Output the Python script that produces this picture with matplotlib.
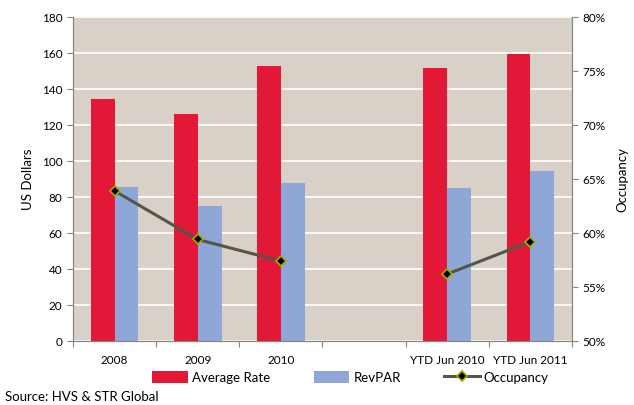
import numpy as np
import matplotlib.pyplot as plt
from matplotlib.ticker import FuncFormatter

plt.rcParams['font.family'] = ['Lato', 'DejaVu Sans']

# --- Data --------------------------------------------------------------------

categories = ['2008', '2009', '2010', '', 'YTD Jun 2010', 'YTD Jun 2011']
average_rate = [134.5, 126.1, 152.8, np.nan, 151.7, 159.4]
revpar = [85.6, 75.0, 87.8, np.nan, 85.0, 94.4]
occupancy = [63.9, 59.4, 57.4, np.nan, 56.2, 59.2]

# --- Figure ------------------------------------------------------------------

fig = plt.figure(figsize=(6.34, 4.05), dpi=100)
ax = fig.add_axes([0.1151, 0.158, 0.7871, 0.8])
ax2 = ax.twinx()

x = np.arange(len(categories))
w = 0.287

ax.set_facecolor('#D9D0C7')
ax.bar(x - w / 2, average_rate, w, color='#E31837', label='Average Rate', zorder=3)
ax.bar(x + w / 2, revpar, w, color='#8EA7D7', label='RevPAR', zorder=3)

ax2.plot(x, occupancy, color='#55554A', lw=2.2, marker='D', markersize=5.5,
         markerfacecolor='black', markeredgecolor='#A8A800', markeredgewidth=1.2,
         label='Occupancy', zorder=4)

ax.set_xlim(-0.5, len(categories) - 0.5)
ax.set_ylim(0, 180)
ax.set_yticks(np.arange(0, 181, 20))
ax.grid(axis='y', color='white', lw=1.2, zorder=1)
ax.set_axisbelow(True)

ax2.set_ylim(50, 80)
ax2.set_yticks(np.arange(50, 81, 5))
ax2.yaxis.set_major_formatter(FuncFormatter(lambda v, p: f'{v:.0f}%'))

ax.set_xticks(np.arange(-0.5, len(categories), 1))
ax.set_xticklabels([])
ax.set_xticks(x, minor=True)
ax.set_xticklabels(categories, minor=True)
ax.tick_params(axis='x', which='minor', length=0, pad=10, labelsize=8.5)
ax.tick_params(axis='x', which='major', length=4, color='#868686')
ax.tick_params(axis='y', length=4, color='#868686', labelsize=8.5)
ax2.tick_params(axis='y', length=4, color='#868686', labelsize=8.5)

for a in (ax, ax2):
    a.spines['top'].set_visible(False)
    for s in ('left', 'right', 'bottom'):
        a.spines[s].set_color('#868686')

ax.set_ylabel('US Dollars', fontsize=9.5, labelpad=6)
ax2.set_ylabel('Occupancy', fontsize=9.5, labelpad=8)

# --- Legend and source -------------------------------------------------------

h1, l1 = ax.get_legend_handles_labels()
h2, l2 = ax2.get_legend_handles_labels()
fig.legend(h1 + h2, l1 + l2, loc='center', bbox_to_anchor=(0.553, 0.068),
           ncol=3, frameon=False, fontsize=9.5, handlelength=2.7,
           handleheight=1.0, columnspacing=3.3, handletextpad=0.3)

fig.text(0.008, 0.005, 'Source: HVS & STR Global', fontsize=9.5, ha='left', va='bottom')

fig.savefig('out.png', dpi=100)
